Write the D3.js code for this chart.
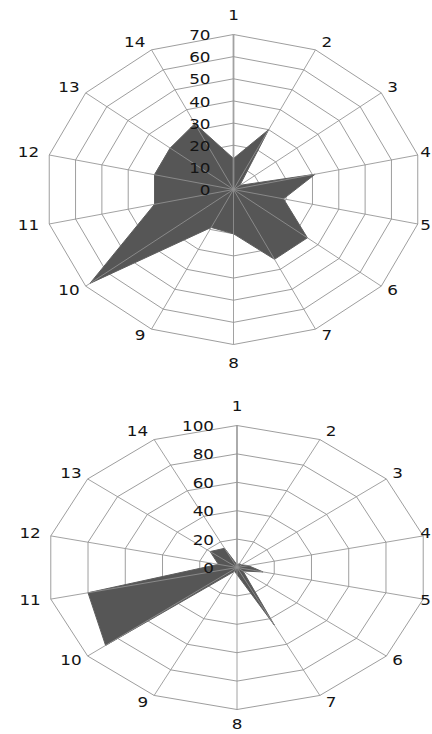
<!DOCTYPE html>
<html>
<head>
<meta charset="utf-8">
<script src="https://cdn.jsdelivr.net/npm/d3@7"></script>
<style>
  html, body { margin: 0; padding: 0; background: #fff; }
  svg { display: block; }
  text { font-family: "DejaVu Sans", Verdana, sans-serif; font-size: 14px; fill: #141414; }
</style>
</head>
<body>
<script>
const categories = ["1","2","3","4","5","6","7","8","9","10","11","12","13","14"];
const topValues    = [14, 30, 3, 31, 19, 35, 35, 20, 19, 68, 30, 30, 30, 33];
const bottomValues = [2, 3, 3, 6, 14, 4, 45, 5, 3, 88, 80, 10, 18, 15];
const topTicks     = [0, 10, 20, 30, 40, 50, 60, 70];
const bottomTicks  = [0, 20, 40, 60, 80, 100];

const W = 432, H = 734;
const svg = d3.select("body").append("svg").attr("width", W).attr("height", H);

const TEXT_SX = 1.2;

function drawRadar(values, ticks, cx, cy, rx, ry) {
  const max = d3.max(ticks);
  const n = categories.length;
  const rX = d3.scaleLinear().domain([0, max]).range([0, rx]);
  const rY = d3.scaleLinear().domain([0, max]).range([0, ry]);
  const ang = d3.scaleLinear().domain([0, n]).range([0, 2 * Math.PI]);
  const pt = (i, v) => [cx + Math.sin(ang(i)) * rX(v), cy - Math.cos(ang(i)) * rY(v)];
  const line = d3.line();
  const g = svg.append("g");

  // rings
  g.selectAll(".ring").data(ticks.filter(t => t > 0)).join("path")
    .attr("d", t => line(d3.range(n).map(i => pt(i, t))) + "Z")
    .attr("fill", "none").attr("stroke", "#9e9e9e").attr("stroke-width", 1);

  // series area
  g.append("path")
    .attr("d", line(values.map((v, i) => pt(i, v))) + "Z")
    .attr("fill", "#565656").attr("stroke", "#5e5e5e").attr("stroke-width", 1);

  // spokes
  g.selectAll(".spoke").data(d3.range(n)).join("line")
    .attr("x1", cx).attr("y1", cy)
    .attr("x2", i => pt(i, max)[0]).attr("y2", i => pt(i, max)[1])
    .attr("stroke", "#929292").attr("stroke-opacity", 0.85)
    .attr("stroke-width", i => i === 0 ? 1.8 : 1);

  // tick labels on first axis
  g.selectAll(".tick").data(ticks).join("text")
    .attr("transform", t => `translate(${cx - 23},${cy - rY(t) + 1.5}) scale(${TEXT_SX},1)`)
    .attr("text-anchor", "end").attr("dominant-baseline", "middle")
    .text(t => t);

  // category labels
  g.selectAll(".cat").data(categories).join("text")
    .each(function(c, i) {
      const ux = Math.sin(ang(i)), uy = -Math.cos(ang(i));
      const [ex, ey] = pt(i, max);
      let x, y, anchor;
      if (Math.abs(ux) < 0.1) {
        anchor = "middle"; x = ex; y = ey + uy * 19;
      } else {
        anchor = ux > 0 ? "start" : "end";
        const gap = Math.abs(ux) > 0.9 ? 10 : 6;
        x = ex + Math.sign(ux) * gap;
        y = ey + uy * 8;
        // keep labels inside the window
        const approxW = c.length * 8.9 * TEXT_SX;
        if (anchor === "start" && x + approxW > W - 1) { anchor = "end"; x = W - 1; }
      }
      y = Math.min(y, H - 9);
      d3.select(this)
        .attr("transform", `translate(${x},${y}) scale(${TEXT_SX},1)`)
        .attr("text-anchor", anchor).attr("dominant-baseline", "middle")
        .text(c);
    });
}

drawRadar(topValues, topTicks, 233.5, 189.5, 189, 155);
drawRadar(bottomValues, bottomTicks, 237, 567.5, 191, 142);
</script>
</body>
</html>
